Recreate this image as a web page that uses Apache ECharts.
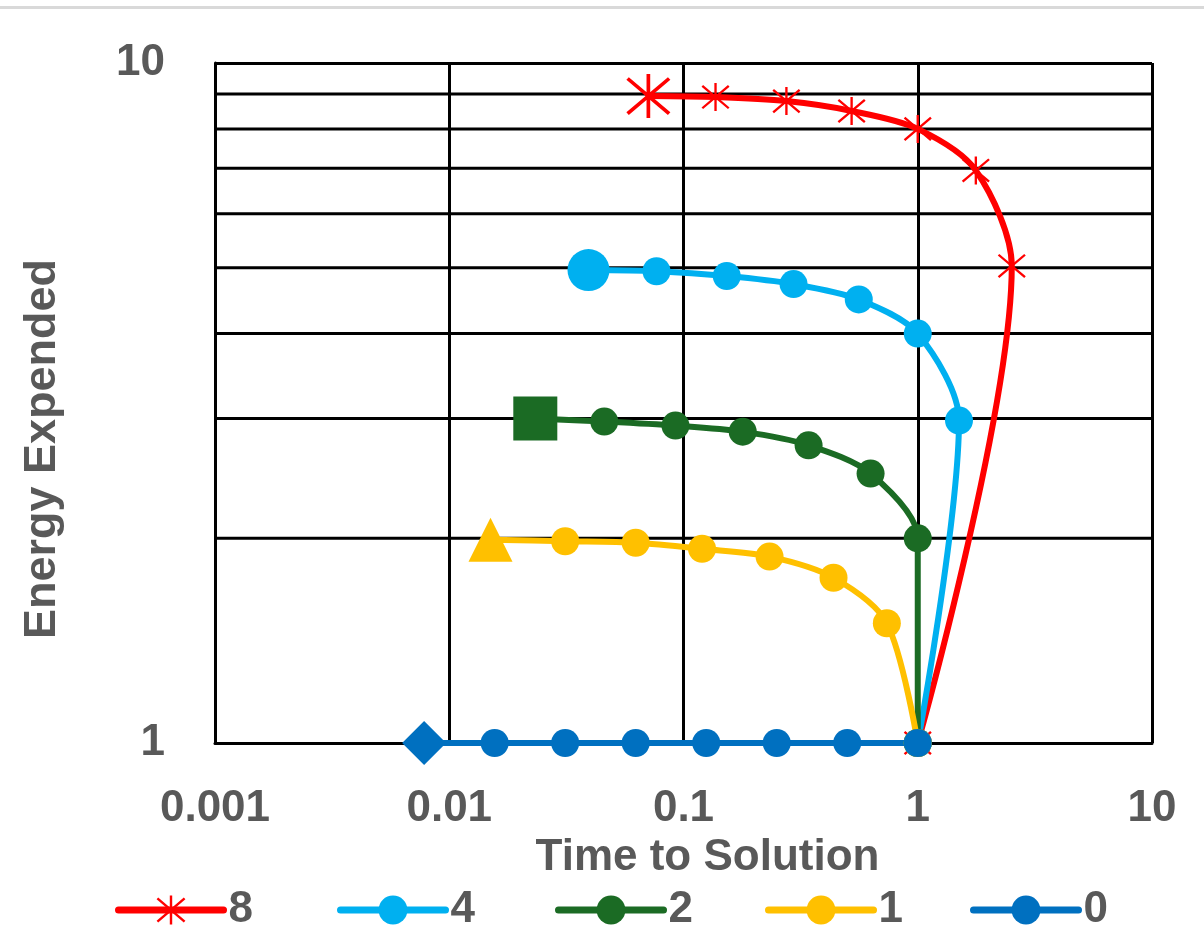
<!DOCTYPE html>
<html>
<head>
<meta charset="utf-8">
<script src="https://cdn.jsdelivr.net/npm/echarts@6/dist/echarts.min.js"></script>
<style>html,body{margin:0;padding:0;background:#fff}#chart{width:1204px;height:940px}</style>
</head>
<body>
<div id="chart"></div>
<script>
// energy expended vs time to solution, log-log
var seriesNames = ['8', '4', '2', '1', '0'];
var seriesColors = ['#FF0000', '#00B0F0', '#1B6B24', '#FFC000', '#0070C0'];

var time8 = [0.0708, 0.137, 0.275, 0.522, 1.0, 1.77, 2.52, 1.0];
var energy8 = [8.94, 8.91, 8.79, 8.5, 8.0, 6.95, 5.03, 1.0];
var time4 = [0.0393, 0.0767, 0.153, 0.295, 0.560, 1.0, 1.5, 1.0];
var energy4 = [4.96, 4.94, 4.86, 4.73, 4.49, 4.0, 2.98, 1.0];
var time2 = [0.0233, 0.0459, 0.0924, 0.179, 0.342, 0.629, 1.0, 1.0];
var energy2 = [3.0, 2.97, 2.93, 2.87, 2.74, 2.49, 2.0, 1.0];
var time1 = [0.0150, 0.03125, 0.0625, 0.12, 0.233, 0.437, 0.738, 1.0];
var energy1 = [1.99, 1.98, 1.97, 1.93, 1.88, 1.75, 1.50, 1.0];
var time0 = [0.0078125, 0.015625, 0.03125, 0.0625, 0.125, 0.25, 0.5, 1.0];
var energy0 = [1, 1, 1, 1, 1, 1, 1, 1];

var xTickValues = [0.001, 0.01, 0.1, 1, 10];
var xTickLabels = ['0.001', '0.01', '0.1', '1', '10'];
var yTickValues = [1, 10];
var yTickLabels = ['1', '10'];
var yMinorGrid = [2, 3, 4, 5, 6, 7, 8, 9];

var allTimes = [time8, time4, time2, time1, time0];
var allEnergy = [energy8, energy4, energy2, energy1, energy0];

// asterisk marker: vertical bar + X, same winding so overlaps stay filled
var STAR = 'path://M10.8,0L10.8,20L9.2,20L9.2,0Z' +
    'M1.53,1.4L19.53,17.4L18.47,18.6L0.47,2.6Z' +
    'M19.53,2.6L1.53,18.6L0.47,17.4L18.47,1.4Z';
var seriesSymbols = [STAR, 'circle', 'circle', 'circle', 'circle'];
var firstSymbols = [STAR, 'circle', 'rect', 'triangle', 'diamond'];
var firstSizes = [44, 42, 44, 44, 44];

var FONT = 'Liberation Sans';
var GREY = '#595959';

function pickLabel(values, labels, v) {
    var best = 0;
    for (var i = 1; i < values.length; i++) {
        if (Math.abs(Math.log10(values[i] / v)) < Math.abs(Math.log10(values[best] / v))) best = i;
    }
    return labels[best];
}

var series = [];
// minor horizontal grid lines at 2..9
yMinorGrid.forEach(function (v) {
    series.push({
        type: 'line', silent: true, symbol: 'none', z: 1,
        data: [[xTickValues[0], v], [xTickValues[xTickValues.length - 1], v]],
        lineStyle: { color: '#000', width: 3 }
    });
});

seriesNames.forEach(function (name, i) {
    var data = allTimes[i].map(function (t, k) {
        var d = { value: [t, allEnergy[i][k]] };
        if (k === 0) {
            d.symbol = firstSymbols[i];
            d.symbolSize = firstSizes[i];
        }
        return d;
    });
    series.push({
        name: name,
        type: 'line',
        data: data,
        smooth: 0.3,
        symbol: seriesSymbols[i],
        symbolSize: 28,
        showAllSymbol: true,
        z: 3,
        lineStyle: { width: 6, color: seriesColors[i], cap: 'round' },
        itemStyle: { color: seriesColors[i] }
    });
});

var legendLefts = [115, 337, 555, 765, 970];
var legends = seriesNames.map(function (name, i) {
    return {
        data: [name],
        left: legendLefts[i],
        top: 888,
        padding: 0,
        itemWidth: 105,
        itemHeight: 36,
        lineStyle: { width: 7, cap: 'round' },
        textStyle: { fontFamily: FONT, fontWeight: 'bold', fontSize: 44, color: GREY }
    };
});

var chart = echarts.init(document.getElementById('chart'));
chart.setOption({
    animation: false,
    backgroundColor: '#fff',
    graphic: [{
        type: 'rect', shape: { x: 0, y: 6, width: 1204, height: 3 },
        style: { fill: '#D9D9D9' }
    }],
    grid: { left: 215, right: 52, top: 63, bottom: 197 },
    legend: legends,
    xAxis: {
        type: 'log', logBase: 10, min: 0.001, max: 10,
        name: 'Time to Solution', nameLocation: 'middle', nameGap: 88,
        nameTextStyle: { fontFamily: FONT, fontWeight: 'bold', fontSize: 44, color: GREY, padding: [0, 0, 0, 48] },
        axisLine: { show: true, lineStyle: { color: '#000', width: 3 } },
        axisTick: { show: false },
        axisLabel: {
            margin: 44, fontFamily: FONT, fontWeight: 'bold', fontSize: 44, color: GREY,
            formatter: function (v) { return pickLabel(xTickValues, xTickLabels, v); }
        },
        splitLine: { show: true, lineStyle: { color: '#000', width: 3 } }
    },
    yAxis: {
        type: 'log', logBase: 10, min: 1, max: 10,
        name: 'Energy Expended', nameLocation: 'middle', nameGap: 150,
        nameTextStyle: { fontFamily: FONT, fontWeight: 'bold', fontSize: 45, color: GREY, padding: [0, 92, 0, 0] },
        axisLine: { show: true, lineStyle: { color: '#000', width: 3 } },
        axisTick: { show: false },
        axisLabel: {
            margin: 50, fontFamily: FONT, fontWeight: 'bold', fontSize: 44, color: GREY,
            formatter: function (v) { return pickLabel(yTickValues, yTickLabels, v); }
        },
        splitLine: { show: true, lineStyle: { color: '#000', width: 3 } }
    },
    series: series
});
</script>
</body>
</html>
